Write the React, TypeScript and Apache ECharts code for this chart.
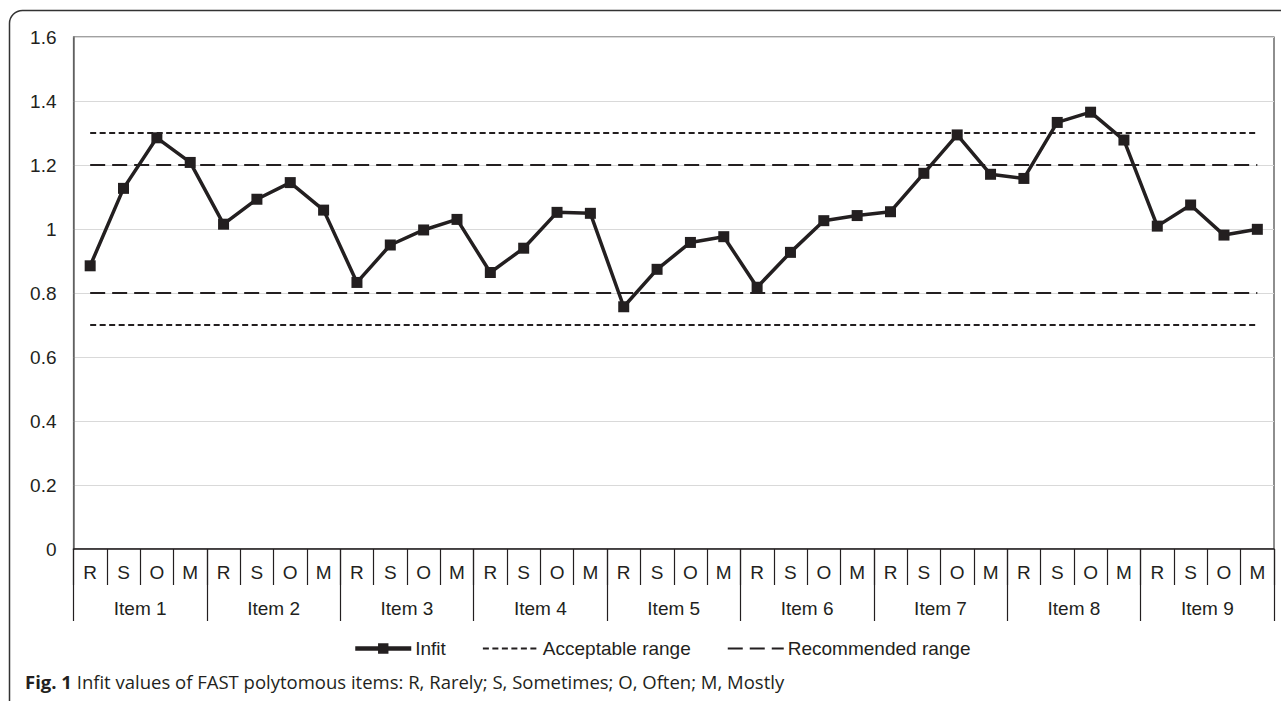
import React, { useEffect, useRef } from "react";
import * as echarts from "echarts";

const levels = ["R", "S", "O", "M"];
const items = ["Item 1", "Item 2", "Item 3", "Item 4", "Item 5", "Item 6", "Item 7", "Item 8", "Item 9"];
const categories = items.flatMap((it) => levels.map((l) => `${it} ${l}`));
const infit = [
  0.885, 1.127, 1.285, 1.208,
  1.015, 1.093, 1.145, 1.059,
  0.833, 0.95, 0.997, 1.03,
  0.864, 0.94, 1.052, 1.049,
  0.757, 0.874, 0.958, 0.976,
  0.818, 0.927, 1.026, 1.042,
  1.054, 1.174, 1.294, 1.171,
  1.158, 1.333, 1.365, 1.278,
  1.009, 1.075, 0.981, 0.999,
];
const acceptableRange = [0.7, 1.3];
const recommendedRange = [0.8, 1.2];
const yMin = 0;
const yMax = 1.6;
const yStep = 0.2;
const captionBold = "Fig. 1";
const captionText = " Infit values of FAST polytomous items: R, Rarely; S, Sometimes; O, Often; M, Mostly";

const INK = "#231f20";
const FONT = "'Liberation Sans', Arial, sans-serif";

export default function App() {
  const ref = useRef<HTMLDivElement>(null);
  useEffect(() => {
    document.body.style.margin = "0";
    const chart = echarts.init(ref.current!, null, { renderer: "svg" });
    const shortDash = { color: INK, width: 2, type: [6, 3.5] };
    const longDash = { color: INK, width: 2, type: [15, 7] };
    chart.setOption({
      animation: false,
      backgroundColor: "#fff",
      grid: {
        left: 73.5,
        right: 7,
        top: 37,
        height: 512,
        show: true,
        borderColor: "#444",
        borderWidth: 1.2,
      },
      legend: {
        left: 348,
        top: 634,
        itemWidth: 56,
        itemHeight: 13,
        itemGap: 36,
        data: [
          { name: "Infit", lineStyle: { width: 4.5, color: INK } },
          { name: "Acceptable range", itemStyle: { opacity: 0 }, lineStyle: { width: 2, color: INK } },
          { name: "Recommended range", itemStyle: { opacity: 0 }, lineStyle: { width: 2, color: INK } },
        ],
        textStyle: { fontFamily: FONT, fontSize: 19, color: INK, padding: [0, 0, 0, -1] },
      },
      xAxis: [
        {
          type: "category",
          data: categories,
          position: "bottom",
          boundaryGap: true,
          axisLine: { show: true, lineStyle: { color: INK, width: 1.5 } },
          axisTick: { show: true, interval: 0, length: 36, lineStyle: { color: INK, width: 1.2 } },
          axisLabel: {
            interval: 0,
            margin: 14,
            fontFamily: FONT,
            fontSize: 19,
            color: INK,
            formatter: (v: string) => v.split(" ").pop(),
          },
          splitLine: { show: false },
        },
        {
          type: "category",
          data: items,
          position: "bottom",
          offset: 0,
          boundaryGap: true,
          axisLine: { show: false },
          axisTick: { show: true, interval: 0, length: 72, lineStyle: { color: INK, width: 1.2 } },
          axisLabel: { interval: 0, margin: 50, fontFamily: FONT, fontSize: 19, color: INK },
          splitLine: { show: false },
        },
      ],
      yAxis: {
        type: "value",
        min: yMin,
        max: yMax,
        interval: yStep,
        axisLine: { show: true, lineStyle: { color: "#6a6a6a", width: 1.5 } },
        axisTick: { show: false },
        axisLabel: { margin: 17, fontFamily: FONT, fontSize: 19, color: INK },
        splitLine: { show: true, lineStyle: { color: "#d9d9d9", width: 1 } },
      },
      series: [
        ...acceptableRange.map((v) => ({
          name: "Acceptable range",
          type: "line",
          xAxisIndex: 0,
          data: categories.map(() => v),
          symbol: "none",
          lineStyle: shortDash,
          itemStyle: { color: INK },
          silent: true,
          z: 2,
        })),
        ...recommendedRange.map((v) => ({
          name: "Recommended range",
          type: "line",
          xAxisIndex: 0,
          data: categories.map(() => v),
          symbol: "none",
          lineStyle: longDash,
          itemStyle: { color: INK },
          silent: true,
          z: 2,
        })),
        {
          name: "Infit",
          type: "line",
          xAxisIndex: 0,
          data: infit,
          symbol: "rect",
          symbolSize: 11,
          lineStyle: { color: INK, width: 3.5 },
          itemStyle: { color: INK },
          z: 5,
        },
      ],
      graphic: [
        {
          type: "rect",
          shape: { x: 9.5, y: 10.5, width: 1400, height: 900, r: [13, 0, 0, 0] },
          style: { fill: "none", stroke: "#333", lineWidth: 1.5 },
          silent: true,
        },
        {
          type: "text",
          left: 25,
          top: 672,
          style: {
            text: `{b|${captionBold}}{n|${captionText}}`,
            rich: {
              b: { fontFamily: "'Open Sans', sans-serif", fontWeight: "bold", fontSize: 18.5, fill: INK },
              n: { fontFamily: "'Open Sans', sans-serif", fontSize: 18.5, fill: INK },
            },
          },
        },
      ],
    });
    return () => chart.dispose();
  }, []);
  return <div ref={ref} style={{ width: 1281, height: 701 }} />;
}
